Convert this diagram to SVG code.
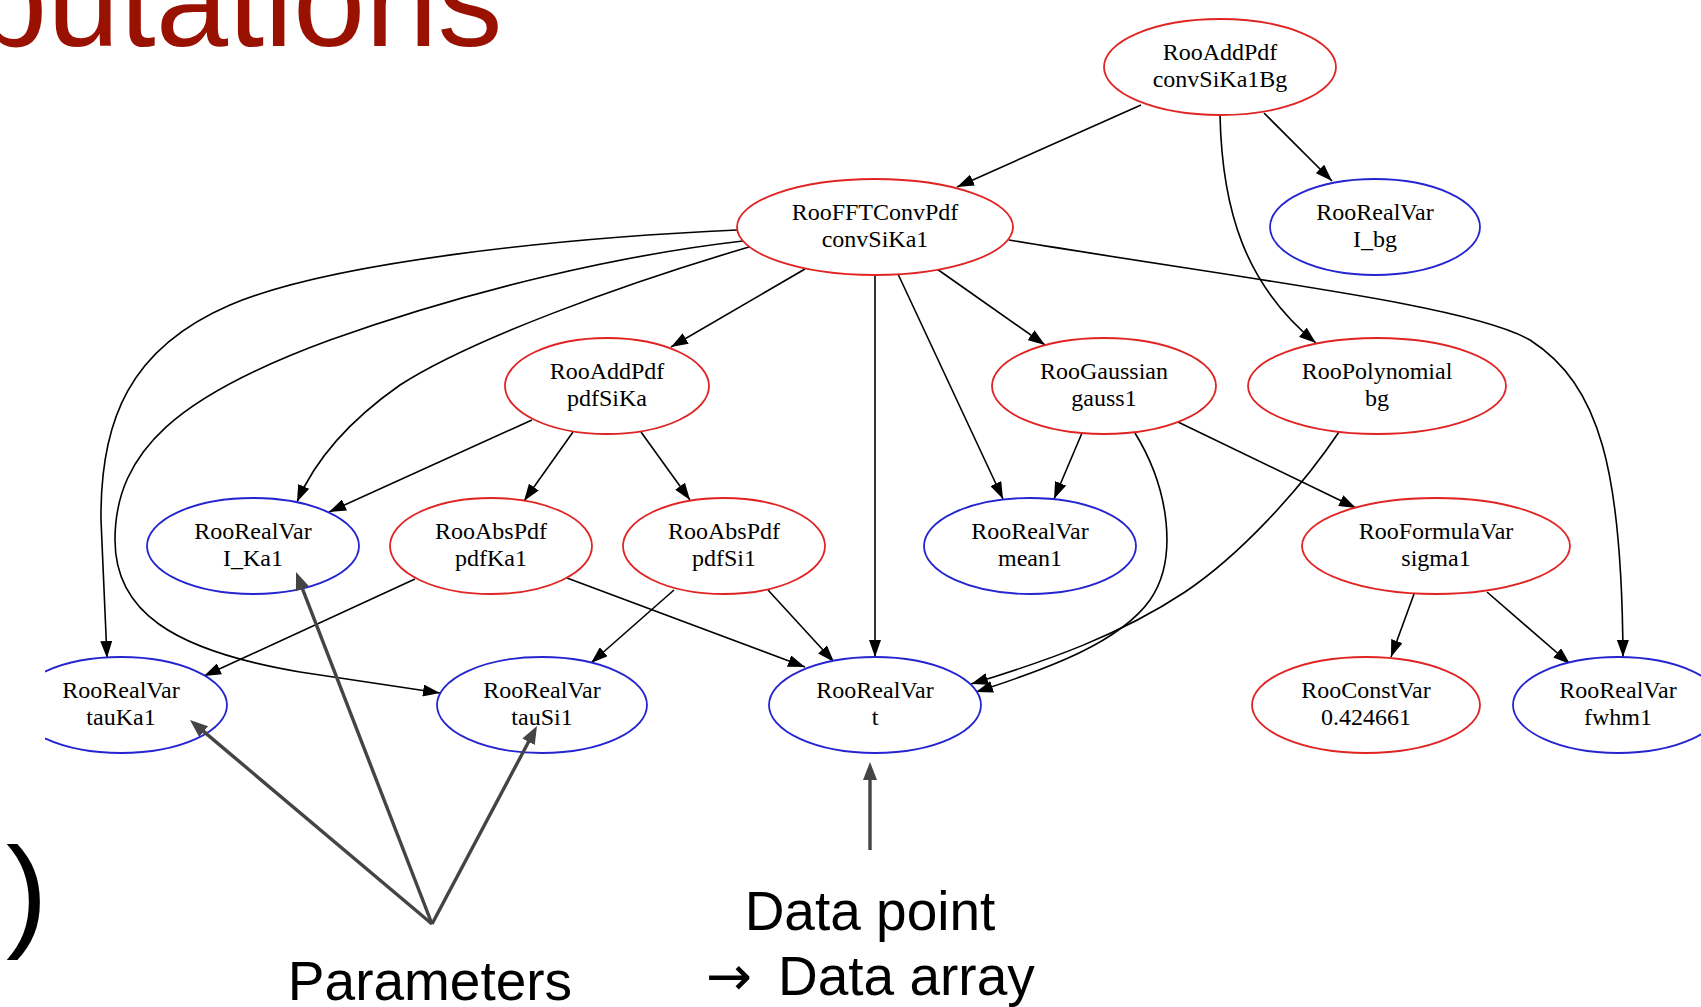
<svg xmlns="http://www.w3.org/2000/svg" width="1701" height="1007" viewBox="0 0 1701 1007">
<style>
.red{fill:#fff;stroke:#e02424;stroke-width:1.8}
.blue{fill:#fff;stroke:#2424d0;stroke-width:1.8}
.nt{font-family:"Liberation Serif","Times New Roman",serif;font-size:24px;fill:#000;text-anchor:middle}
.edge{fill:none;stroke:#000;stroke-width:1.6;marker-end:url(#ah)}
.ann{fill:none;stroke:#444;stroke-width:3.4;marker-end:url(#gh)}
.lab{font-family:"Liberation Sans",Arial,sans-serif;font-size:55px;fill:#000;text-anchor:middle}
.labs{font-family:"Liberation Sans",Arial,sans-serif;font-size:55px;fill:#000;text-anchor:start}
</style>
<defs>
<marker id="ah" markerUnits="userSpaceOnUse" markerWidth="17" markerHeight="12" refX="17" refY="6" orient="auto"><path d="M0,0 L17,6 L0,12 z" fill="#000"/></marker>
<marker id="gh" markerUnits="userSpaceOnUse" markerWidth="18" markerHeight="14" refX="8" refY="7" orient="auto"><path d="M0,0 L18,7 L0,14 z" fill="#444"/></marker>
<clipPath id="leftclip"><rect x="45" y="0" width="1700" height="1007"/></clipPath>
</defs>
<rect x="0" y="0" width="1701" height="1007" fill="#fff"/>
<text x="-25" y="46" font-family="'Liberation Sans',Arial,sans-serif" font-size="130" fill="#991100">putations</text>
<text x="6" y="934" font-family="'Liberation Sans',Arial,sans-serif" font-size="125" fill="#000">)</text>

<g id="connectors">
<path class="edge" d="M1141,105 L957,187"/>
<path class="edge" d="M1264,113 L1332,181"/>
<path class="edge" d="M1220,115 C1222,210 1245,285 1316,343"/>
<path class="edge" d="M737,230 C560,238 330,262 230,305 C130,348 100,420 101,520 L107,658"/>
<path class="edge" d="M743,241 C620,255 470,290 330,340 C180,395 115,450 115,540 C115,610 170,650 300,672 L440,693"/>
<path class="edge" d="M749,247 C620,285 470,340 400,385 C350,420 315,460 297,502"/>
<path class="edge" d="M805,269 L671,347"/>
<path class="edge" d="M875,275 L875,657"/>
<path class="edge" d="M898,274 L1003,499"/>
<path class="edge" d="M937,269 L1045,345"/>
<path class="edge" d="M1009,240 C1250,280 1470,305 1530,340 C1600,385 1622,470 1623,657"/>
<path class="edge" d="M532,420 L329,512"/>
<path class="edge" d="M573,432 L524,501"/>
<path class="edge" d="M641,432 L690,500"/>
<path class="edge" d="M415,579 L204,676"/>
<path class="edge" d="M567,578 L805,667"/>
<path class="edge" d="M674,590 L591,663"/>
<path class="edge" d="M768,590 L834,662"/>
<path class="edge" d="M1082,433 L1054,499"/>
<path class="edge" d="M1135,433 C1170,490 1178,560 1150,600 C1120,642 1050,668 976,692"/>
<path class="edge" d="M1178,422 L1356,508"/>
<path class="edge" d="M1339,432 C1300,490 1240,555 1185,592 C1120,635 1050,660 971,684"/>
<path class="edge" d="M1414,594 L1391,657"/>
<path class="edge" d="M1487,592 L1570,664"/>
</g>

<g id="convSiKa1Bg"><ellipse class="red" cx="1220" cy="67" rx="116" ry="48"/><text class="nt" x="1220" y="60">RooAddPdf</text><text class="nt" x="1220" y="87">convSiKa1Bg</text></g>
<g id="convSiKa1"><ellipse class="red" cx="875" cy="227" rx="138" ry="48"/><text class="nt" x="875" y="220">RooFFTConvPdf</text><text class="nt" x="875" y="247">convSiKa1</text></g>
<g id="I_bg"><ellipse class="blue" cx="1375" cy="227" rx="105" ry="48"/><text class="nt" x="1375" y="220">RooRealVar</text><text class="nt" x="1375" y="247">I_bg</text></g>
<g id="pdfSiKa"><ellipse class="red" cx="607" cy="386" rx="102" ry="48"/><text class="nt" x="607" y="379">RooAddPdf</text><text class="nt" x="607" y="406">pdfSiKa</text></g>
<g id="gauss1"><ellipse class="red" cx="1104" cy="386" rx="112" ry="48"/><text class="nt" x="1104" y="379">RooGaussian</text><text class="nt" x="1104" y="406">gauss1</text></g>
<g id="bg"><ellipse class="red" cx="1377" cy="386" rx="129" ry="48"/><text class="nt" x="1377" y="379">RooPolynomial</text><text class="nt" x="1377" y="406">bg</text></g>
<g id="I_Ka1"><ellipse class="blue" cx="253" cy="546" rx="106" ry="48"/><text class="nt" x="253" y="539">RooRealVar</text><text class="nt" x="253" y="566">I_Ka1</text></g>
<g id="pdfKa1"><ellipse class="red" cx="491" cy="546" rx="101" ry="48"/><text class="nt" x="491" y="539">RooAbsPdf</text><text class="nt" x="491" y="566">pdfKa1</text></g>
<g id="pdfSi1"><ellipse class="red" cx="724" cy="546" rx="101" ry="48"/><text class="nt" x="724" y="539">RooAbsPdf</text><text class="nt" x="724" y="566">pdfSi1</text></g>
<g id="mean1"><ellipse class="blue" cx="1030" cy="546" rx="106" ry="48"/><text class="nt" x="1030" y="539">RooRealVar</text><text class="nt" x="1030" y="566">mean1</text></g>
<g id="sigma1"><ellipse class="red" cx="1436" cy="546" rx="134" ry="48"/><text class="nt" x="1436" y="539">RooFormulaVar</text><text class="nt" x="1436" y="566">sigma1</text></g>
<g id="tauKa1"><ellipse class="blue" cx="121" cy="705" rx="106" ry="48" clip-path="url(#leftclip)"/><text class="nt" x="121" y="698">RooRealVar</text><text class="nt" x="121" y="725">tauKa1</text></g>
<g id="tauSi1"><ellipse class="blue" cx="542" cy="705" rx="105" ry="48"/><text class="nt" x="542" y="698">RooRealVar</text><text class="nt" x="542" y="725">tauSi1</text></g>
<g id="t"><ellipse class="blue" cx="875" cy="705" rx="106" ry="48"/><text class="nt" x="875" y="698">RooRealVar</text><text class="nt" x="875" y="725">t</text></g>
<g id="const"><ellipse class="red" cx="1366" cy="705" rx="114" ry="48"/><text class="nt" x="1366" y="698">RooConstVar</text><text class="nt" x="1366" y="725">0.424661</text></g>
<g id="fwhm1"><ellipse class="blue" cx="1618" cy="705" rx="105" ry="48"/><text class="nt" x="1618" y="698">RooRealVar</text><text class="nt" x="1618" y="725">fwhm1</text></g>

<g id="annotations">
<path class="ann" d="M432,924 L197.6,726.4"/>
<path class="ann" d="M432,924 L299.6,581.3"/>
<path class="ann" d="M432,924 L532.3,734.8"/>
<path class="ann" d="M870,850 L870,772"/>
<text class="lab" x="430" y="1000">Parameters</text>
<text class="lab" x="870" y="930">Data point</text>
<text class="labs" x="706" y="995"><tspan font-family="'DejaVu Sans',sans-serif">→ </tspan><tspan x="778">Data array</tspan></text>
</g>
</svg>
